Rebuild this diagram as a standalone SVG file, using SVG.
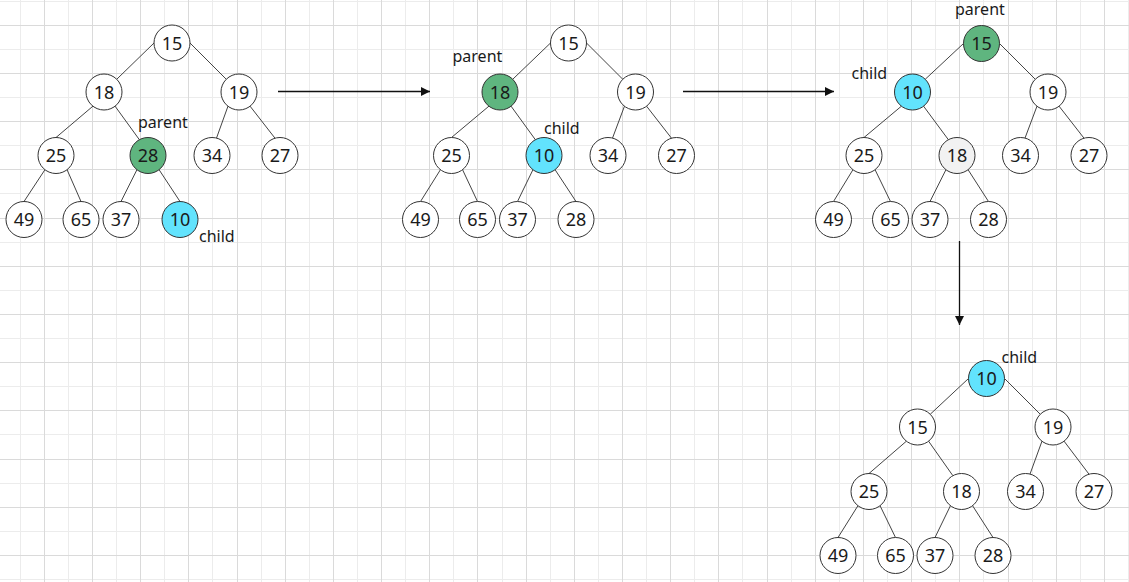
<svg xmlns="http://www.w3.org/2000/svg" width="1129" height="582" viewBox="0 0 1129 582">
<defs>
<style>
.minor{stroke:#ececec;stroke-width:1;fill:none}
.major{stroke:#dadada;stroke-width:1;fill:none}
.n circle{fill:#ffffff;stroke:#333333;stroke-width:1}
.n.green circle{fill:#5fb57f}
.n.cyan circle{fill:#62e3fd}
.n.gray circle{fill:#f2f2f2}
.n text{font-family:"Noto Sans","Open Sans",sans-serif;font-size:18px;fill:#1a1a1a;text-anchor:middle}
.lbl{font-family:"Noto Sans","Open Sans",sans-serif;font-size:16px;fill:#1a1a1a}
.e{stroke:#444444;stroke-width:1;fill:none}
.arr{stroke:#111111;stroke-width:1.3;fill:none;marker-end:url(#ah)}
</style>
<marker id="ah" markerUnits="userSpaceOnUse" markerWidth="10" markerHeight="10" refX="9" refY="4.5" orient="auto">
<path d="M0,0 L9,4.5 L0,9 z" fill="#111111"/>
</marker>
</defs>
<rect x="0" y="0" width="1129" height="582" fill="#ffffff"/>
<g id="grid">
<path class="minor" d="M20.5,0V582M68.5,0V582M116.5,0V582M164.5,0V582M212.5,0V582M261.5,0V582M309.5,0V582M357.5,0V582M405.5,0V582M453.5,0V582M502.5,0V582M550.5,0V582M598.5,0V582M646.5,0V582M694.5,0V582M742.5,0V582M791.5,0V582M839.5,0V582M887.5,0V582M935.5,0V582M983.5,0V582M1032.5,0V582M1080.5,0V582M1128.5,0V582M0,1.5H1129M0,49.5H1129M0,97.5H1129M0,145.5H1129M0,193.5H1129M0,242.5H1129M0,290.5H1129M0,338.5H1129M0,386.5H1129M0,434.5H1129M0,483.5H1129M0,531.5H1129M0,579.5H1129"/>
<path class="major" d="M44.5,0V582M92.5,0V582M140.5,0V582M188.5,0V582M237.5,0V582M285.5,0V582M333.5,0V582M381.5,0V582M429.5,0V582M477.5,0V582M526.5,0V582M574.5,0V582M622.5,0V582M670.5,0V582M718.5,0V582M767.5,0V582M815.5,0V582M863.5,0V582M911.5,0V582M959.5,0V582M1008.5,0V582M1056.5,0V582M1104.5,0V582M0,25.5H1129M0,73.5H1129M0,121.5H1129M0,169.5H1129M0,218.5H1129M0,266.5H1129M0,314.5H1129M0,362.5H1129M0,410.5H1129M0,459.5H1129M0,507.5H1129M0,555.5H1129"/>
</g>
<g id="connectors">
<path class="e" d="M154,43L116.7,79.3M190,43L226.3,79.3M93,106.1L56,137.5M115,106.1L139.3,139.6M228,106.1L216.5,138.1M250,106.1L275,138.2M45,169.6L24,201.5M67,169.6L81,201.5M137,169.6L121,201.5M159,169.6L180,201.5"/>
<path class="e" d="M550.5,43L512.7,79.3M586.5,43L622.8,79.3M489,106.1L451.5,137.5M511,106.1L535.3,139.6M624.5,106.1L612.5,138.1M646.5,106.1L671.5,138.2M440.5,169.6L420.5,201.5M462.5,169.6L477.5,201.5M533,169.6L517.5,201.5M555,169.6L576,201.5"/>
<path class="e" d="M963.5,43.5L925.2,79.3M999.5,43.5L1035.3,79.3M901.5,106.1L864,137.5M923.5,106.1L948.3,139.6M1037,106.1L1025,138.1M1059,106.1L1084,138.2M853,169.6L833.5,201.5M875,169.6L890.5,201.5M946,169.6L930,201.5M968,169.6L988.5,201.5"/>
<path class="e" d="M968.5,378.5L930.2,414.3M1004.5,378.5L1040.3,414.3M906.5,441.1L869,473.5M928.5,441.1L952.8,475.6M1042,441.1L1030,474.1M1064,441.1L1089,474.2M858,505.6L838,537.5M880,505.6L895.5,537.5M950.5,505.6L935,537.5M972.5,505.6L993,537.5"/>
<line class="arr" x1="278" y1="91.5" x2="430" y2="91.5"/>
<line class="arr" x1="683" y1="91.5" x2="834" y2="91.5"/>
<line class="arr" x1="959.5" y1="241" x2="959.5" y2="325"/>
</g>
<g id="tree1">
<g id="t1-15" class="n"><circle cx="172" cy="43" r="18"/><text x="172" y="49.8">15</text></g>
<g id="t1-18" class="n"><circle cx="104" cy="92" r="18"/><text x="104" y="98.8">18</text></g>
<g id="t1-19" class="n"><circle cx="239" cy="92" r="18"/><text x="239" y="98.8">19</text></g>
<g id="t1-25" class="n"><circle cx="56" cy="155.5" r="18"/><text x="56" y="162.3">25</text></g>
<g id="t1-28" class="n green"><circle cx="148" cy="155.5" r="18"/><text x="148" y="162.3">28</text></g>
<g id="t1-34" class="n"><circle cx="212" cy="155.5" r="18"/><text x="212" y="162.3">34</text></g>
<g id="t1-27" class="n"><circle cx="280" cy="155.5" r="18"/><text x="280" y="162.3">27</text></g>
<g id="t1-49" class="n"><circle cx="24" cy="219.5" r="18"/><text x="24" y="226.3">49</text></g>
<g id="t1-65" class="n"><circle cx="81" cy="219.5" r="18"/><text x="81" y="226.3">65</text></g>
<g id="t1-37" class="n"><circle cx="121" cy="219.5" r="18"/><text x="121" y="226.3">37</text></g>
<g id="t1-10" class="n cyan"><circle cx="180" cy="219.5" r="18"/><text x="180" y="226.3">10</text></g>
<text id="t1-parent" class="lbl" x="138" y="128.3">parent</text>
<text id="t1-child" class="lbl" x="199" y="242.3">child</text>
</g>
<g id="tree2">
<g id="t2-15" class="n"><circle cx="568.5" cy="43" r="18"/><text x="568.5" y="49.8">15</text></g>
<g id="t2-18" class="n green"><circle cx="500" cy="92" r="18"/><text x="500" y="98.8">18</text></g>
<g id="t2-19" class="n"><circle cx="635.5" cy="92" r="18"/><text x="635.5" y="98.8">19</text></g>
<g id="t2-25" class="n"><circle cx="451.5" cy="155.5" r="18"/><text x="451.5" y="162.3">25</text></g>
<g id="t2-10" class="n cyan"><circle cx="544" cy="155.5" r="18"/><text x="544" y="162.3">10</text></g>
<g id="t2-34" class="n"><circle cx="608" cy="155.5" r="18"/><text x="608" y="162.3">34</text></g>
<g id="t2-27" class="n"><circle cx="676.5" cy="155.5" r="18"/><text x="676.5" y="162.3">27</text></g>
<g id="t2-49" class="n"><circle cx="420.5" cy="219.5" r="18"/><text x="420.5" y="226.3">49</text></g>
<g id="t2-65" class="n"><circle cx="477.5" cy="219.5" r="18"/><text x="477.5" y="226.3">65</text></g>
<g id="t2-37" class="n"><circle cx="517.5" cy="219.5" r="18"/><text x="517.5" y="226.3">37</text></g>
<g id="t2-28" class="n"><circle cx="576" cy="219.5" r="18"/><text x="576" y="226.3">28</text></g>
<text id="t2-parent" class="lbl" x="452.5" y="61.7">parent</text>
<text id="t2-child" class="lbl" x="544" y="134.3">child</text>
</g>
<g id="tree3">
<g id="t3-15" class="n green"><circle cx="981.5" cy="43.5" r="18"/><text x="981.5" y="50.3">15</text></g>
<g id="t3-10" class="n cyan"><circle cx="912.5" cy="92" r="18"/><text x="912.5" y="98.8">10</text></g>
<g id="t3-19" class="n"><circle cx="1048" cy="92" r="18"/><text x="1048" y="98.8">19</text></g>
<g id="t3-25" class="n"><circle cx="864" cy="155.5" r="18"/><text x="864" y="162.3">25</text></g>
<g id="t3-18" class="n gray"><circle cx="957" cy="155.5" r="18"/><text x="957" y="162.3">18</text></g>
<g id="t3-34" class="n"><circle cx="1020.5" cy="155.5" r="18"/><text x="1020.5" y="162.3">34</text></g>
<g id="t3-27" class="n"><circle cx="1089" cy="155.5" r="18"/><text x="1089" y="162.3">27</text></g>
<g id="t3-49" class="n"><circle cx="833.5" cy="219.5" r="18"/><text x="833.5" y="226.3">49</text></g>
<g id="t3-65" class="n"><circle cx="890.5" cy="219.5" r="18"/><text x="890.5" y="226.3">65</text></g>
<g id="t3-37" class="n"><circle cx="930" cy="219.5" r="18"/><text x="930" y="226.3">37</text></g>
<g id="t3-28" class="n"><circle cx="988.5" cy="219.5" r="18"/><text x="988.5" y="226.3">28</text></g>
<text id="t3-parent" class="lbl" x="955" y="15">parent</text>
<text id="t3-child" class="lbl" x="851.5" y="79.3">child</text>
</g>
<g id="tree4">
<g id="t4-10" class="n cyan"><circle cx="986.5" cy="378.5" r="18"/><text x="986.5" y="385.3">10</text></g>
<g id="t4-15" class="n"><circle cx="917.5" cy="427" r="18"/><text x="917.5" y="433.8">15</text></g>
<g id="t4-19" class="n"><circle cx="1053" cy="427" r="18"/><text x="1053" y="433.8">19</text></g>
<g id="t4-25" class="n"><circle cx="869" cy="491.5" r="18"/><text x="869" y="498.3">25</text></g>
<g id="t4-18" class="n"><circle cx="961.5" cy="491.5" r="18"/><text x="961.5" y="498.3">18</text></g>
<g id="t4-34" class="n"><circle cx="1025.5" cy="491.5" r="18"/><text x="1025.5" y="498.3">34</text></g>
<g id="t4-27" class="n"><circle cx="1094" cy="491.5" r="18"/><text x="1094" y="498.3">27</text></g>
<g id="t4-49" class="n"><circle cx="838" cy="555.5" r="18"/><text x="838" y="562.3">49</text></g>
<g id="t4-65" class="n"><circle cx="895.5" cy="555.5" r="18"/><text x="895.5" y="562.3">65</text></g>
<g id="t4-37" class="n"><circle cx="935" cy="555.5" r="18"/><text x="935" y="562.3">37</text></g>
<g id="t4-28" class="n"><circle cx="993" cy="555.5" r="18"/><text x="993" y="562.3">28</text></g>
<text id="t4-child" class="lbl" x="1001.5" y="362.7">child</text>
</g>
</svg>
